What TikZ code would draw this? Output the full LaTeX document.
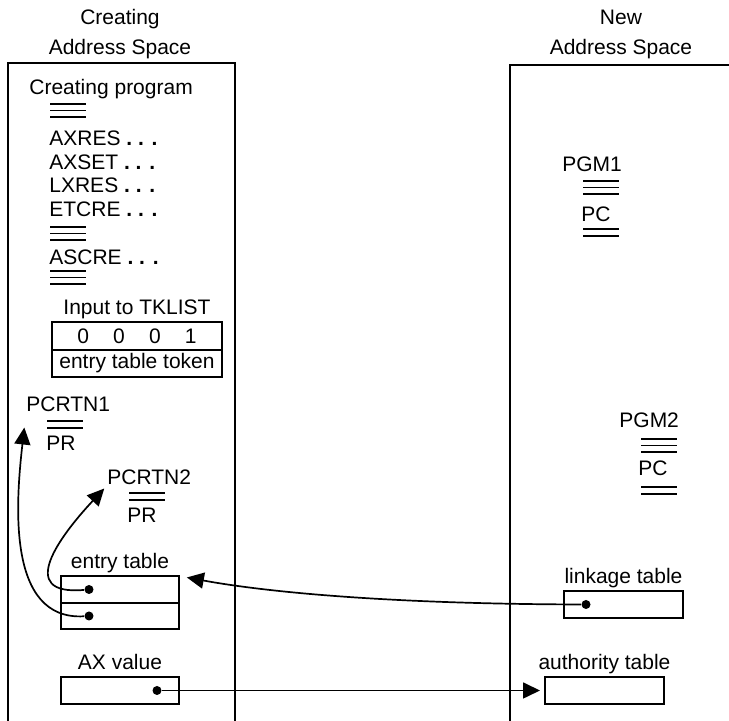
\documentclass[tikz,border=0pt]{standalone}
\usepackage{fontspec}
\setmainfont{Liberation Sans}
\usetikzlibrary{arrows.meta, positioning}

\tikzset{
  txt/.style={inner sep=0pt, font=\fontsize{10.5}{12}\selectfont},
  cell/.style={draw, line width=0.8pt, inner sep=0pt, outer sep=0pt, font=\fontsize{10.5}{12}\selectfont},
  dot/.style={circle, fill=black, inner sep=0pt, minimum size=4.5pt},
  ptr/.style={line width=0.85pt, -{Triangle[length=8.5pt, width=8pt]}},
  bar/.style={line width=0.8pt},
}

\begin{document}
\begin{tikzpicture}[x=0.5pt, y=0.5pt]
\useasboundingbox (0,0) rectangle (729,721);

\draw[line width=0.9pt] (8,0) |- (235,658) -- (235,0);
\draw[line width=0.9pt] (510,0) |- (729,656);
\node[txt, anchor=base] (hcr1) at (120,696) {Creating};
\node[txt, anchor=base] (hcr2) at (120,666) {Address Space};
\node[txt, anchor=base] (hnw1) at (621,696) {New};
\node[txt, anchor=base] (hnw2) at (621,666) {Address Space};

\node[txt, anchor=base west] (cprog) at (29,626) {Creating program};
\node[txt, anchor=base west] (axres) at (49,575) {AXRES \textbf{. . .}};
\node[txt, anchor=base west] (axset) at (49,551) {AXSET \textbf{. . .}};
\node[txt, anchor=base west] (lxres) at (49,528) {LXRES \textbf{. . .}};
\node[txt, anchor=base west] (etcre) at (49,504) {ETCRE \textbf{. . .}};
\node[txt, anchor=base west] (ascre) at (49,456) {ASCRE \textbf{. . .}};
\foreach \x/\y in {50/617, 50/494, 50/450, 583/540, 641/282}
  \draw[bar] (\x,\y) -- ++(36,0) (\x,\y-6.5) -- ++(36,0) (\x,\y-13) -- ++(36,0);
\foreach \x/\y in {47/300, 129/228, 583/492, 641/234}
  \draw[bar] (\x,\y) -- ++(36,0) (\x,\y-7) -- ++(36,0);

\node[cell, minimum width=85pt, minimum height=14pt] (tk1) at (137,385)
  {0\hspace{1.15em}0\hspace{1.15em}0\hspace{1.15em}1};
\node[cell, minimum width=85pt, minimum height=13.5pt, anchor=north] (tk2) at (tk1.south) {entry table token};
\node[txt, above=3.5pt of tk1.north, anchor=base] (tkin) {Input to TKLIST};

\node[txt, anchor=base west] (pcr1) at (26,309) {PCRTN1};
\node[txt, anchor=base west] (pr1) at (46,270) {PR};
\node[txt, anchor=base west] (pcr2) at (107,236) {PCRTN2};
\node[txt, anchor=base west] (pr2) at (127,198) {PR};

\node[cell, minimum width=59pt, minimum height=13.5pt] (et1) at (120,131.5) {};
\node[cell, minimum width=59pt, minimum height=13pt, anchor=north] (et2) at (et1.south) {};
\node[txt, above=3.5pt of et1.north, anchor=base] (etl) {entry table};
\node[dot] (ed1) at ([xshift=14pt]et1.west) {};
\node[dot] (ed2) at ([xshift=14pt]et2.west) {};

\node[cell, minimum width=59pt, minimum height=13.5pt] (axv) at (120,30.5) {};
\node[txt, above=3.5pt of axv.north, anchor=base] (axl) {AX value};
\node[dot] (axd) at ([xshift=-11pt]axv.east) {};

\node[txt, anchor=base west] (pgm1) at (562,549) {PGM1};
\node[txt, anchor=base west] (pc1) at (581,499) {PC};
\node[txt, anchor=base west] (pgm2) at (619,293) {PGM2};
\node[txt, anchor=base west] (pc2) at (638,245) {PC};

\node[cell, minimum width=59.5pt, minimum height=13.5pt] (lt) at (623.5,116.5) {};
\node[txt, above=3.5pt of lt.north, anchor=base] (ltl) {linkage table};
\node[dot] (ld) at ([xshift=11pt]lt.west) {};

\node[cell, minimum width=59.5pt, minimum height=13.5pt] (auth) at (604.5,30.5) {};
\node[txt, above=3.5pt of auth.north, anchor=base] (authl) {authority table};

\draw[ptr, shorten >=2.5pt] (axd) -- (axd -| auth.west);
\draw[ptr, shorten >=4pt] (ld) .. controls (380,117) and (260,130) .. (et1.north east);
\draw[ptr, shorten >=2pt] (ed1) .. controls (15,125) and (60,185) .. (pcr2.south west);
\draw[ptr, shorten >=7.5pt] (ed2) .. controls (6,100) and (16,220) .. (pcr1.south west);
\end{tikzpicture}
\end{document}
